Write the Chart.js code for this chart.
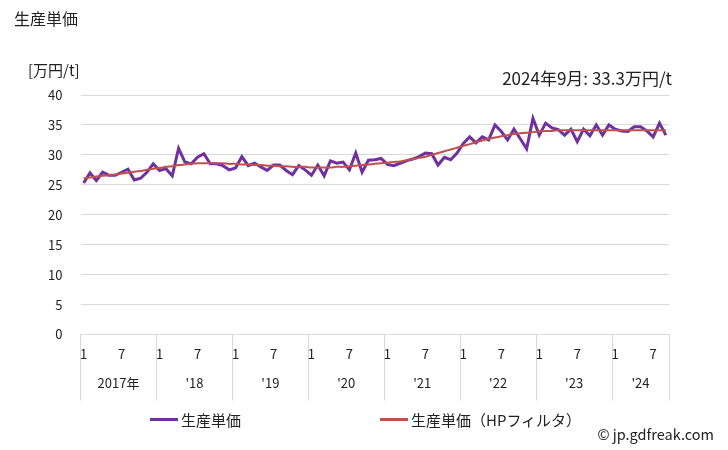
<!DOCTYPE html>
<html>
<head>
<meta charset="utf-8">
<script src="https://cdn.jsdelivr.net/npm/chart.js@4.4.1/dist/chart.umd.min.js"></script>
<style>
body{margin:0;background:#fff;font-family:'Noto Sans CJK JP',sans-serif;color:#222}
#wrap{position:relative;width:728px;height:450px}
#wrap canvas{position:absolute;left:0;top:0}
.t{position:absolute;white-space:nowrap;line-height:1}
.leg{position:absolute;top:409px;font-size:15px;display:flex;align-items:center}
.leg span.mk{display:inline-block;width:28px;height:3px;margin-right:3px}
</style>
</head>
<body>
<div id="wrap">
  <canvas id="c" width="728" height="450"></canvas>
  <div class="t" style="left:14px;top:10px;font-size:16px">生産単価</div>
  <div class="t" style="left:28px;top:62px;font-size:15px">[万円/t]</div>
  <div class="t" id="latest" style="right:56px;top:69px;font-size:17px"></div>
  <div class="t" style="right:14px;top:427px;font-size:14.5px">© jp.gdfreak.com</div>
</div>
<script>
const years = [2017, 2018, 2019, 2020, 2021, 2022, 2023, 2024];
const yearLabels = ['2017年', "'18", "'19", "'20", "'21", "'22", "'23", "'24"];
const shownMonths = [1, 7];

// 2017-01 .. 2024-09
const unitPrice = [
  25.3, 27.0, 25.7, 27.1, 26.6, 26.6, 27.1, 27.6, 25.8, 26.1, 27.1, 28.5,
  27.4, 27.7, 26.5, 31.1, 28.8, 28.5, 29.6, 30.2, 28.5, 28.5, 28.2, 27.5,
  27.8, 29.7, 28.2, 28.6, 28.0, 27.4, 28.3, 28.3, 27.4, 26.7, 28.2, 27.5,
  26.6, 28.3, 26.5, 29.0, 28.6, 28.8, 27.5, 30.3, 27.1, 29.1, 29.2, 29.4,
  28.4, 28.2, 28.6, 29.0, 29.3, 29.7, 30.3, 30.2, 28.3, 29.6, 29.2, 30.3,
  31.9, 33.0, 32.0, 33.0, 32.5, 35.0, 33.9, 32.5, 34.3, 32.7, 31.0, 36.1,
  33.3, 35.3, 34.5, 34.2, 33.3, 34.3, 32.2, 34.3, 33.2, 35.0, 33.3, 35.0,
  34.3, 34.0, 33.9, 34.7, 34.7, 34.0, 33.0, 35.3, 33.3
];
const unitPriceHP = [
  26.1, 26.2, 26.4, 26.5, 26.6, 26.7, 26.9, 27.0, 27.2, 27.3, 27.5, 27.7,
  27.8, 28.0, 28.1, 28.3, 28.4, 28.5, 28.6, 28.6, 28.6, 28.6, 28.6, 28.5,
  28.5, 28.4, 28.4, 28.3, 28.3, 28.2, 28.2, 28.1, 28.1, 28.0, 28.0, 28.0,
  27.9, 27.9, 27.9, 27.9, 28.0, 28.0, 28.1, 28.2, 28.3, 28.4, 28.5, 28.6,
  28.7, 28.8, 28.9, 29.1, 29.3, 29.5, 29.7, 30.0, 30.3, 30.6, 30.9, 31.2,
  31.5, 31.8, 32.1, 32.4, 32.7, 32.9, 33.1, 33.3, 33.5, 33.6, 33.7, 33.8,
  33.9, 34.0, 34.0, 34.1, 34.1, 34.1, 34.1, 34.1, 34.1, 34.1, 34.1, 34.1,
  34.1, 34.1, 34.1, 34.1, 34.1, 34.1, 34.1, 34.1, 34.1
];

const categories = [];
years.forEach(y => {
  for (let m = 1; m <= 12; m++) {
    if (categories.length < unitPrice.length) categories.push(y + '-' + m);
  }
});

const FONT = "'Noto Sans CJK JP', sans-serif";
const GRID = '#d9d9d9';

const last = categories[categories.length - 1].split('-');
document.getElementById('latest').innerText =
  last[0] + '年' + last[1] + '月: ' + unitPrice[unitPrice.length - 1] + '万円/t';

const yearLabelPlugin = {
  id: 'yearLabels',
  afterDraw(chart) {
    const x = chart.scales.x;
    const ctx = chart.ctx;
    ctx.save();
    ctx.font = '13px ' + FONT;
    ctx.fillStyle = '#222';
    ctx.textAlign = 'center';
    ctx.textBaseline = 'middle';
    years.forEach((y, i) => {
      const idx = [];
      categories.forEach((c, j) => { if (c.startsWith(y + '-')) idx.push(j); });
      const cx = (x.getPixelForValue(idx[0]) + x.getPixelForValue(idx[idx.length - 1])) / 2;
      ctx.fillText(yearLabels[i], cx, x.top + 49);
    });
    ctx.restore();
  }
};

const chart = new Chart(document.getElementById('c'), {
  type: 'line',
  data: {
    labels: categories,
    datasets: [{
      label: '生産単価',
      data: unitPrice,
      borderColor: '#7030a0',
      borderWidth: 3,
      pointRadius: 0,
      tension: 0,
      order: 1
    }, {
      label: '生産単価（HPフィルタ）',
      data: unitPriceHP,
      borderColor: '#c0504d',
      borderWidth: 2,
      pointRadius: 0,
      tension: 0.4,
      order: 0
    }]
  },
  options: {
    responsive: false,
    animation: false,
    layout: {padding: {top: 95, right: 59, left: 0, bottom: 0}},
    plugins: {legend: {display: false}, tooltip: {enabled: false}},
    scales: {
      x: {
        offset: true,
        afterFit(scale) { scale.height = 115.5; },
        border: {display: true, color: GRID},
        grid: {
          offset: true,
          drawOnChartArea: false,
          tickLength: 66,
          color(ctx) {
            if (ctx.type !== 'tick') return GRID;
            return categories[ctx.index].endsWith('-1') ? GRID : 'rgba(0,0,0,0)';
          }
        },
        ticks: {
          autoSkip: false,
          maxRotation: 0,
          padding: -54,
          color: '#222',
          font: {family: FONT, size: 13},
          callback(v, i) {
            const m = +categories[i].split('-')[1];
            return shownMonths.includes(m) ? String(m) : '';
          }
        }
      },
      y: {
        min: 0,
        max: 40,
        afterFit(scale) { scale.width = 80.5; },
        border: {display: false},
        grid: {color: GRID, drawTicks: false},
        ticks: {
          stepSize: 5,
          padding: 18,
          color: '#222',
          font: {family: FONT, size: 13}
        }
      }
    }
  },
  plugins: [yearLabelPlugin]
});

// legend built from the datasets
const wrap = document.getElementById('wrap');
const legX = [150, 380];
chart.data.datasets.forEach((ds, i) => {
  const d = document.createElement('DIV');
  d.className = 'leg';
  d.style.left = legX[i] + 'px';
  const mk = document.createElement('SPAN');
  mk.className = 'mk';
  mk.style.background = ds.borderColor;
  d.append(mk);
  const tx = document.createElement('SPAN');
  tx.innerText = ds.label;
  d.append(tx);
  wrap.append(d);
});
</script>
</body>
</html>
